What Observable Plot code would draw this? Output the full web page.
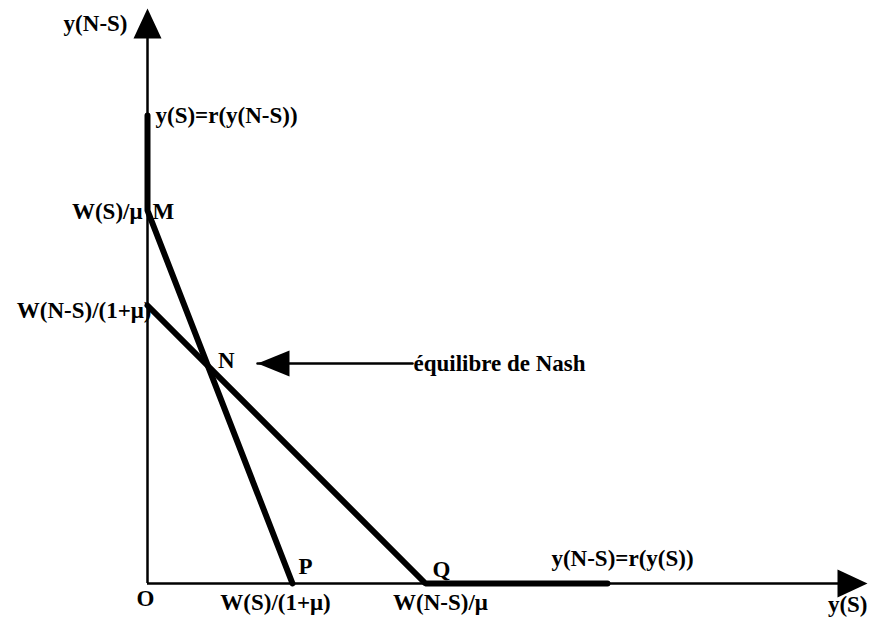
<!DOCTYPE html>
<html><head><meta charset="utf-8">
<script src="https://cdn.jsdelivr.net/npm/d3@7"></script>
<script src="https://cdn.jsdelivr.net/npm/@observablehq/plot@0.6"></script>
<style>
body{margin:0;background:#fff;}
#chart svg{display:block;}
</style>
</head><body><div id="chart"></div>
<script>
// Axis extents (abstract units)
const axisEnd = {x: 720, y: 575};
// Key values on the axes
const xValues = [145, 278];            // W(S)/(1+mu), W(N-S)/mu
const xValueLabels = ["W(S)/(1+\u03BC)", "W(N-S)/\u03BC"];
const yValues = [373, 278];            // W(S)/mu, W(N-S)/(1+mu)
const yValueLabels = ["W(S)/\u03BC", "W(N-S)/(1+\u03BC)"];
// Reaction functions
const reactionS = [{x: 0, y: 468}, {x: 0, y: 373}, {x: 145, y: 0}];   // y(S)=r(y(N-S))
const reactionNS = [{x: 0, y: 278}, {x: 278, y: 0}, {x: 460, y: 0}]; // y(N-S)=r(y(S))
// Nash annotation arrow (from text to point)
const nashArrow = [{x: 265, y: 220}, {x: 110, y: 220}];

// Nash point = intersection
const a1 = -373 / 145, b1 = 373, a2 = -1, b2 = 278;
const nx = (b2 - b1) / (a1 - a2), ny = a1 * nx + b1;

const font = "Liberation Serif, Times New Roman, serif";
const tri = {draw(ctx){ ctx.moveTo(0,0); ctx.lineTo(14,30); ctx.lineTo(-14,30); ctx.closePath(); }};
const triSmall = {draw(ctx){ ctx.moveTo(0,0); ctx.lineTo(13,32); ctx.lineTo(-13,32); ctx.closePath(); }};
const T = (data, o) => Plot.text(data, {fontFamily: font, fontSize: 23, fontWeight: "bold", fill: "#000", ...o});

const chart = Plot.plot({
  width: 870, height: 618,
  marginLeft: 147, marginRight: 3, marginTop: 8, marginBottom: 35,
  x: {domain: [0, axisEnd.x], axis: null},
  y: {domain: [0, axisEnd.y], axis: null},
  style: {background: "#fff"},
  marks: [
    Plot.ruleX([0], {y1: 0, y2: axisEnd.y - 25, stroke: "#000", strokeWidth: 2.5}),
    Plot.ruleY([0], {x1: 0, x2: axisEnd.x - 25, stroke: "#000", strokeWidth: 2.5}),
    Plot.dot([{x: 0, y: axisEnd.y}], {x: "x", y: "y", symbol: tri, fill: "#000", stroke: null}),
    Plot.dot([{x: axisEnd.x, y: 0}], {x: "x", y: "y", symbol: tri, rotate: 90, fill: "#000", stroke: null}),
    Plot.line(reactionS, {x: "x", y: "y", stroke: "#000", strokeWidth: 6, strokeLinejoin: "miter"}),
    Plot.line(reactionNS, {x: "x", y: "y", stroke: "#000", strokeWidth: 6, strokeLinejoin: "miter"}),
    Plot.line(nashArrow, {x: "x", y: "y", stroke: "#000", strokeWidth: 2.5}),
    Plot.dot([nashArrow[1]], {x: "x", y: "y", symbol: triSmall, rotate: -90, fill: "#000", stroke: null}),
    // axis titles
    T([{x: 0, y: axisEnd.y}], {x: "x", y: "y", text: () => "y(N-S)", textAnchor: "end", dx: -20, dy: 15}),
    T([{x: axisEnd.x, y: 0}], {x: "x", y: "y", text: () => "y(S)", textAnchor: "end", dx: 0, dy: 21}),
    T([{x: 0, y: 0}], {x: "x", y: "y", text: () => "O", textAnchor: "middle", dx: -2, dy: 15}),
    // value labels on x
    T([xValues[0]], {x: d => d, y: () => 0, text: () => xValueLabels[0], textAnchor: "middle", dx: -17, dy: 19}),
    T([xValues[1]], {x: d => d, y: () => 0, text: () => xValueLabels[1], textAnchor: "middle", dx: 15, dy: 19}),
    // value labels on y
    T([yValues[0]], {x: () => 0, y: d => d, text: () => yValueLabels[0], textAnchor: "end", dx: -5, dy: 1}),
    T([yValues[1]], {x: () => 0, y: d => d, text: () => yValueLabels[1], textAnchor: "end", dx: 4, dy: 5}),
    // point labels
    T([{x: 0, y: yValues[0]}], {x: "x", y: "y", text: () => "M", textAnchor: "start", dx: 5, dy: 1}),
    T([{x: nx, y: ny}], {x: "x", y: "y", text: () => "N", textAnchor: "start", dx: 10, dy: -5}),
    T([{x: xValues[0], y: 0}], {x: "x", y: "y", text: () => "P", textAnchor: "start", dx: 6, dy: -17}),
    T([{x: xValues[1], y: 0}], {x: "x", y: "y", text: () => "Q", textAnchor: "start", dx: 7, dy: -14}),
    // curve labels
    T([{x: 0, y: reactionS[0].y}], {x: "x", y: "y", text: () => "y(S)=r(y(N-S))", textAnchor: "start", dx: 8, dy: 0}),
    T([{x: reactionNS[2].x, y: 0}], {x: "x", y: "y", text: () => "y(N-S)=r(y(S))", textAnchor: "middle", dx: 15, dy: -25}),
    T([nashArrow[0]], {x: "x", y: "y", text: () => "équilibre de Nash", textAnchor: "start", dx: 1, dy: 0})
  ]
});
document.getElementById("chart").append(chart);
</script>
</body></html>
